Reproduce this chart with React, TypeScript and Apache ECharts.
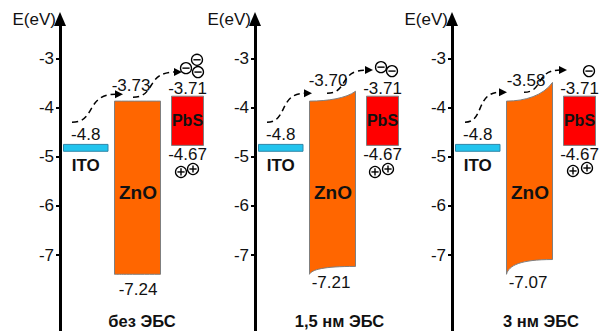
import React, { useEffect, useRef } from 'react';
import * as echarts from 'echarts';

// ---------- data ----------
const panelNames = ['без ЭБС', '1,5 нм ЭБС', '3 нм ЭБС'];
const yTicks = [-7, -6, -5, -4, -3];

// labelled energy levels (eV)
const itoWorkFunction = [-4.8, -4.8, -4.8];
const znoCB = [-3.73, -3.7, -3.58];
const znoVB = [-7.24, -7.21, -7.07];
const pbsCB = [-3.71, -3.71, -3.71];
const pbsVB = [-4.67, -4.67, -4.67];

// band edges as drawn in the schematic (eV)
const itoBandTop = [-4.75, -4.75, -4.75];
const itoBandBottom = [-4.89, -4.89, -4.89];
const znoCBDrawnLeft = [-3.87, -3.87, -3.87];
const znoCBDrawnRight = [-3.87, -3.67, -3.49];
const znoVBDrawnLeft = [-7.39, -7.39, -7.39];
const znoVBDrawnRight = [-7.39, -7.23, -7.09];
const pbsDrawnTop = [-3.77, -3.77, -3.77];
const pbsDrawnBottom = [-4.77, -4.77, -4.77];

// ---------- layout (panel-local x units = px from the axis) ----------
const PANEL_LEFT = [60, 255, 452];
const X_ITO = [3.5, 48];
const X_ZNO = [54.5, 100.5];
const X_PBS = [111.5, 143.5];
const CB_LABEL_X = [71, 73, 74];
const CB_LABEL_DY = [-16, -21, -21];
const VB_LABEL_X = [78, 76, 76];
const VB_LABEL_DY = [15, 8.5, 8.5];
const CAPTION_X = [82, 84.5, 89];
const CAPTION_LEVEL = -8.34;
const ARROWS = [
  [[12, -4.3, 63, -3.73], [73, -3.79, 122, -3.28]],
  [[12, -4.3, 57, -3.71], [72, -3.71, 118, -3.24]],
  [[13, -4.3, 55, -3.69], [72, -3.69, 115, -3.24]],
];
const ELECTRONS = [
  [[137, -3.03], [138, -3.28], [126, -3.2]],
  [[126, -3.18], [137, -3.26]],
  [[137, -3.26]],
];
const HOLES = [
  [[121, -5.31], [133, -5.25]],
  [[120, -5.31], [133, -5.25]],
  [[121, -5.29], [135, -5.23]],
];

const FONT = 'Arial, "Liberation Sans", Helvetica, sans-serif';
const Y_MAX = -2.2;
const Y_MIN = -9;
const PX_PER_EV = 49.2;
const GRID_TOP = 58.3 - (Y_MAX - -3) * PX_PER_EV;
const GRID_HEIGHT = (Y_MAX - Y_MIN) * PX_PER_EV;

function renderPanel(p: number) {
  return (_params: any, api: any) => {
    const c = (x: number, y: number) => api.coord([x, y]);
    const ch: any[] = [];
    const txt = (text: string, x: number, y: number, size: number, bold: boolean, va = 'middle') => {
      ch.push({
        type: 'text',
        style: {
          text, x, y, align: 'center', verticalAlign: va,
          fontFamily: FONT, fontSize: size, fontWeight: bold ? 'bold' : 'normal', fill: '#111',
        },
      });
    };

    // ITO
    const i0 = c(X_ITO[0], itoBandTop[p]);
    const i1 = c(X_ITO[1], itoBandBottom[p]);
    ch.push({
      type: 'rect',
      shape: { x: i0[0], y: i0[1], width: i1[0] - i0[0], height: i1[1] - i0[1] },
      style: { fill: '#22c4ee', stroke: '#2e86a8', lineWidth: 1 },
    });

    // ZnO
    const tl = c(X_ZNO[0], znoCBDrawnLeft[p]);
    const tr = c(X_ZNO[1], znoCBDrawnRight[p]);
    const br = c(X_ZNO[1], znoVBDrawnRight[p]);
    const bl = c(X_ZNO[0], znoVBDrawnLeft[p]);
    const w = tr[0] - tl[0];
    const dyT = tr[1] - tl[1];
    const dyB = br[1] - bl[1];
    const d =
      `M${tl[0]},${tl[1]} C${tl[0] + 0.4 * w},${tl[1]} ${tl[0] + 0.8 * w},${tl[1] + 0.3 * dyT} ${tr[0]},${tr[1]} ` +
      `L${br[0]},${br[1]} C${bl[0] + 0.3 * w},${br[1]} ${bl[0] + 0.05 * w},${bl[1] + 0.6 * dyB} ${bl[0]},${bl[1]} Z`;
    ch.push({
      type: 'path',
      shape: { pathData: d },
      style: { fill: '#ff6600', stroke: '#7f7f7f', lineWidth: 1 },
    });

    // PbS
    const p0 = c(X_PBS[0], pbsDrawnTop[p]);
    const p1 = c(X_PBS[1], pbsDrawnBottom[p]);
    ch.push({
      type: 'rect',
      shape: { x: p0[0], y: p0[1], width: p1[0] - p0[0], height: p1[1] - p0[1] },
      style: { fill: '#ff0000', stroke: '#7f7f7f', lineWidth: 1 },
    });

    // labels
    const itoMid = (i0[0] + i1[0]) / 2;
    txt(itoWorkFunction[p].toFixed(1), itoMid, i0[1] - 1, 17, false, 'bottom');
    txt('ITO', itoMid, i1[1] + 14, 17, true);
    txt(znoCB[p].toFixed(2), c(CB_LABEL_X[p], 0)[0], tl[1] + CB_LABEL_DY[p], 17, false);
    txt(znoVB[p].toFixed(2), c(VB_LABEL_X[p], 0)[0], bl[1] + VB_LABEL_DY[p], 17, false);
    txt('ZnO', c(78, 0)[0], (tl[1] + bl[1]) / 2 + 4.5, 19, true);
    const pbsMid = (p0[0] + p1[0]) / 2;
    txt(pbsCB[p].toFixed(2), pbsMid, p0[1] - 8, 17, false);
    txt(pbsVB[p].toFixed(2), pbsMid, p1[1] + 9, 17, false);
    txt('PbS', pbsMid, (p0[1] + p1[1]) / 2, 16, true);
    const cap = c(CAPTION_X[p], CAPTION_LEVEL);
    txt(panelNames[p], cap[0], cap[1], 16.5, true);

    // dashed arrows
    ARROWS[p].forEach((a) => {
      const s = c(a[0], a[1]);
      const e = c(a[2], a[3]);
      const head = 8;
      const ex = e[0] - head + 1;
      const dx = ex - s[0];
      ch.push({
        type: 'bezierCurve',
        shape: {
          x1: s[0], y1: s[1], x2: ex, y2: e[1],
          cpx1: s[0] + 0.55 * dx, cpy1: s[1], cpx2: s[0] + 0.3 * dx, cpy2: e[1],
        },
        style: { stroke: '#000', lineWidth: 1.5, lineDash: [6, 4], fill: null },
      });
      ch.push({
        type: 'polygon',
        shape: { points: [[e[0], e[1]], [e[0] - head, e[1] - 4], [e[0] - head, e[1] + 4]] },
        style: { fill: '#000' },
      });
    });

    // carriers
    const carrier = (pt: number[], plus: boolean) => {
      const q = c(pt[0], pt[1]);
      ch.push({ type: 'circle', shape: { cx: q[0], cy: q[1], r: 5.5 }, style: { fill: '#fff', stroke: '#000', lineWidth: 1.3 } });
      ch.push({ type: 'line', shape: { x1: q[0] - 3.6, y1: q[1], x2: q[0] + 3.6, y2: q[1] }, style: { stroke: '#000', lineWidth: 1.4 } });
      if (plus) {
        ch.push({ type: 'line', shape: { x1: q[0], y1: q[1] - 3.6, x2: q[0], y2: q[1] + 3.6 }, style: { stroke: '#000', lineWidth: 1.4 } });
      }
    };
    ELECTRONS[p].forEach((pt) => carrier(pt, false));
    HOLES[p].forEach((pt) => carrier(pt, true));

    return { type: 'group', children: ch };
  };
}

export default function App() {
  const ref = useRef<HTMLDivElement>(null);
  useEffect(() => {
    if (!ref.current) return;
    const chart = echarts.init(ref.current, null, { renderer: 'svg' });
    const idx = [0, 1, 2];
    chart.setOption({
      animation: false,
      backgroundColor: '#ffffff',
      grid: idx.map((i) => ({
        left: PANEL_LEFT[i], top: GRID_TOP, width: 150, height: GRID_HEIGHT,
        containLabel: false, outerBoundsMode: 'none',
      })),
      xAxis: idx.map((i) => ({ type: 'value', gridIndex: i, min: 0, max: 150, show: false })),
      yAxis: idx.map((i) => ({
        type: 'value',
        gridIndex: i,
        min: Y_MIN,
        max: Y_MAX,
        name: 'E(eV)',
        nameLocation: 'end',
        nameGap: -1,
        nameTextStyle: { align: 'right', verticalAlign: 'middle', fontFamily: FONT, fontSize: 17, color: '#111', padding: [0, 4, 0, 0] },
        axisLine: { show: true, symbol: ['none', 'triangle'], symbolSize: [12, 14], lineStyle: { color: '#000', width: 3 } },
        axisTick: { show: true, length: 4, customValues: yTicks, lineStyle: { color: '#000', width: 2 } },
        axisLabel: { show: true, margin: 6, customValues: yTicks, fontFamily: FONT, fontSize: 17, color: '#111' },
        splitLine: { show: false },
      })),
      series: idx.map((i) => ({
        type: 'custom',
        xAxisIndex: i,
        yAxisIndex: i,
        clip: false,
        silent: true,
        data: [[X_ZNO[0], znoCB[i]]],
        encode: { x: 0, y: 1 },
        renderItem: renderPanel(i),
      })),
    });
    return () => chart.dispose();
  }, []);
  return <div ref={ref} style={{ position: 'fixed', left: 0, top: 0, width: 601, height: 331 }} />;
}
